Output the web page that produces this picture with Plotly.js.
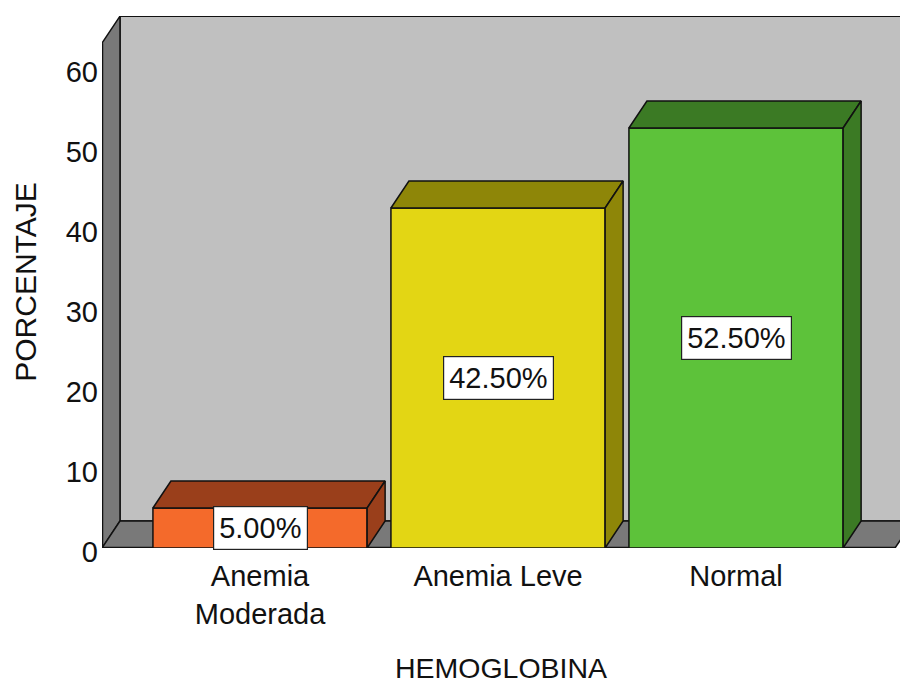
<!DOCTYPE html>
<html>
<head>
<meta charset="utf-8">
<script src="https://cdn.plot.ly/plotly-3.0.1.min.js"></script>
<style>html,body{margin:0;padding:0;background:#fff;}#chart{width:900px;height:684px;}</style>
</head>
<body>
<div id="chart"></div>
<script>
// ---- data ----
const categories = ["Anemia<br>Moderada", "Anemia Leve", "Normal"];
const percentages = [5.0, 42.5, 52.5];
const valueLabels = ["5.00%", "42.50%", "52.50%"];
const yTicks = [0, 10, 20, 30, 40, 50, 60];

// ---- styling ----
const frontColors = ["#f46a2b", "#e3d614", "#5dc23a"];
const darkColors = ["#9a3f1b", "#8e8608", "#3b7a24"];
const FONT = "Liberation Sans, Arial, sans-serif";

const xs = categories.map((c, i) => i);
const barW = 0.9;
const dx = 0.0756;   // depth offset (category units)
const dy = 3.375;    // depth offset (value units)
const xL = -0.664, xR = 2.668;
const yTopWall = 63.1;
const yMax = 66.5;

const traces = [];
traces.push({
  type: "bar", x: xs, y: percentages, width: barW,
  marker: {color: frontColors, line: {color: "#111", width: 1.5}},
  hoverinfo: "none", showlegend: false
});
percentages.forEach((v, i) => {
  const a = xs[i] - barW / 2, b = xs[i] + barW / 2;
  // top face
  traces.push({
    type: "scatter", mode: "lines", fill: "toself", fillcolor: darkColors[i],
    line: {color: "#111", width: 1.5},
    x: [a, a + dx, b + dx, b, a], y: [v, v + dy, v + dy, v, v],
    hoverinfo: "none", showlegend: false
  });
  // side face
  traces.push({
    type: "scatter", mode: "lines", fill: "toself", fillcolor: darkColors[i],
    line: {color: "#111", width: 1.5},
    x: [b, b + dx, b + dx, b, b], y: [0, dy, v + dy, v, 0],
    hoverinfo: "none", showlegend: false
  });
});

const shapes = [
  // back wall
  {type: "path", layer: "below", xref: "x", yref: "y",
   path: `M${xL + dx},${dy} L${xL + dx},${yTopWall + dy} L${xR + dx + 0.2},${yTopWall + dy} L${xR + dx + 0.2},${dy} Z`,
   fillcolor: "#c0c0c0", line: {color: "#111", width: 1.5}},
  // left wall
  {type: "path", layer: "below", xref: "x", yref: "y",
   path: `M${xL},0 L${xL},${yTopWall} L${xL + dx},${yTopWall + dy} L${xL + dx},${dy} Z`,
   fillcolor: "#797979", line: {color: "#111", width: 1.5}},
  // floor
  {type: "path", layer: "below", xref: "x", yref: "y",
   path: `M${xL},0 L${xR},0 L${xR + dx},${dy} L${xL + dx},${dy} Z`,
   fillcolor: "#797979", line: {color: "#111", width: 1.5}},
  // front edges (thicker)
  {type: "line", layer: "above", xref: "x", yref: "y", x0: xL, x1: xL, y0: 0, y1: yTopWall,
   line: {color: "#111", width: 2.5}},
  {type: "line", layer: "below", xref: "x", yref: "y", x0: xL, x1: xR, y0: 0, y1: 0,
   line: {color: "#111", width: 2.5}}
];

const annotations = percentages.map((v, i) => ({
  x: xs[i], y: v / 2, xref: "x", yref: "y", text: valueLabels[i], showarrow: false,
  font: {family: FONT, size: 29, color: "#111"},
  bgcolor: "#ffffff", bordercolor: "#222", borderwidth: 1.2, borderpad: 5
}));

const layout = {
  width: 900, height: 684,
  margin: {l: 102, r: 0, t: 16, b: 136},
  paper_bgcolor: "#ffffff", plot_bgcolor: "#ffffff",
  font: {family: FONT, size: 28, color: "#111"},
  showlegend: false,
  bargap: 0,
  xaxis: {
    range: [xL, xL + 798 / 238], tickmode: "array", tickvals: xs, ticktext: categories,
    showgrid: false, zeroline: false, showline: false, ticks: "",
    ticklabelstandoff: 8,
    tickfont: {family: FONT, size: 29, color: "#111"},
    title: {text: "HEMOGLOBINA", font: {family: FONT, size: 28.5, color: "#111"}, standoff: 40},
    fixedrange: true
  },
  yaxis: {
    range: [0, yMax], tickmode: "array", tickvals: yTicks,
    showgrid: false, zeroline: false, showline: false, ticks: "",
    ticklabelstandoff: 3, ticklabelshift: 4,
    tickfont: {family: FONT, size: 29, color: "#111"},
    title: {text: "PORCENTAJE", font: {family: FONT, size: 30, color: "#111"}, standoff: 20},
    fixedrange: true
  },
  shapes: shapes,
  annotations: annotations
};

Plotly.newPlot("chart", traces, layout, {displayModeBar: false, staticPlot: true});
</script>
</body>
</html>
